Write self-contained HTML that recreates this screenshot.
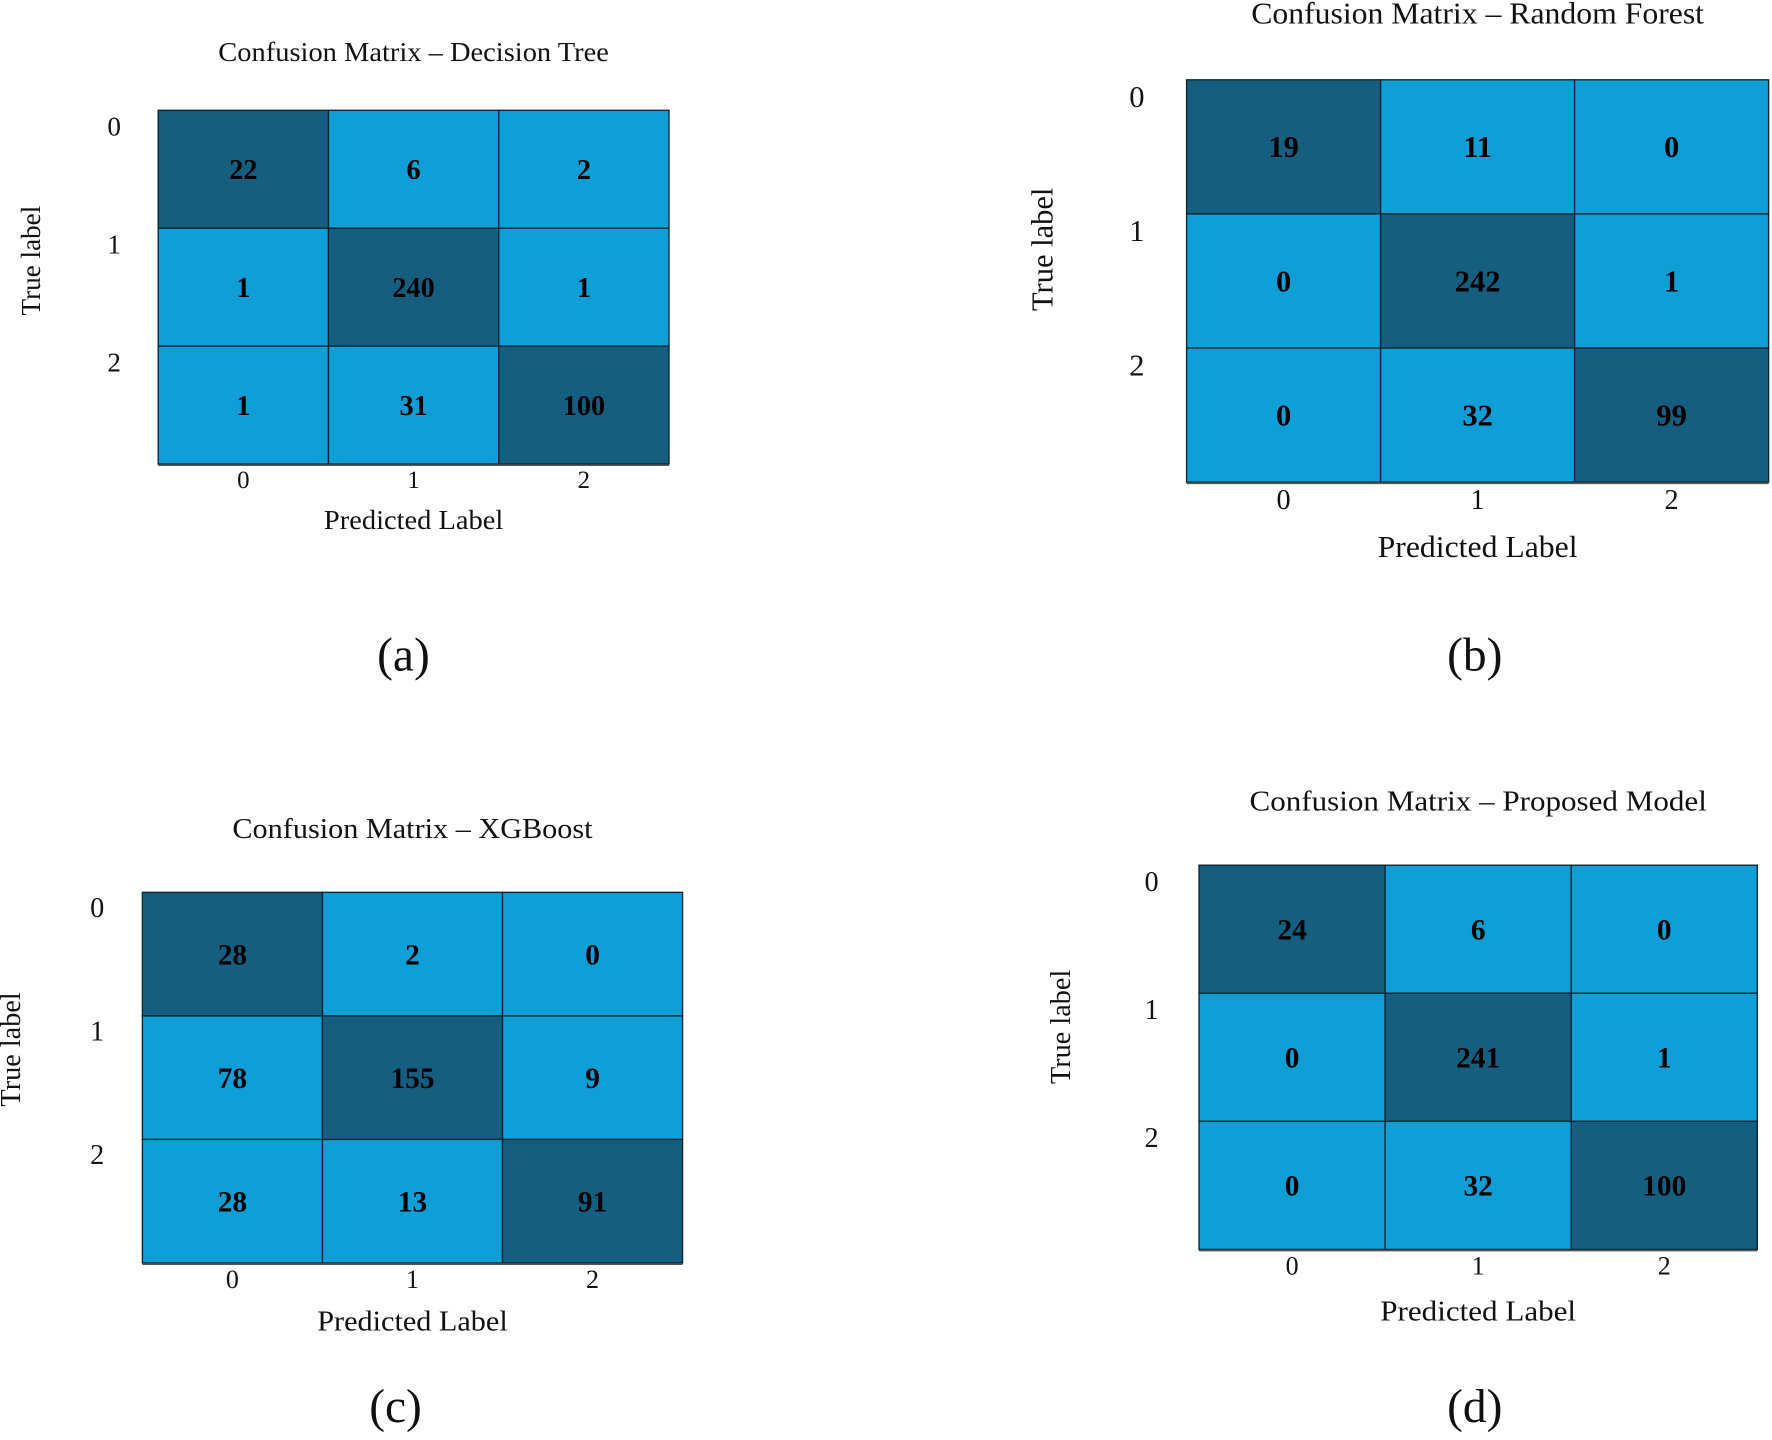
<!DOCTYPE html>
<html><head><meta charset="utf-8"><style>
html,body{margin:0;padding:0;background:#fff;}
svg{display:block;font-family:"Liberation Serif",serif;}
</style></head><body>
<svg id="fig" width="1772" height="1440" viewBox="0 0 1568 1273" xmlns="http://www.w3.org/2000/svg"></svg>
<script>
const classLabels = ["0","1","2"];
const valuesA = [[22,6,2],[1,240,1],[1,31,100]];
const valuesB = [[19,11,0],[0,242,1],[0,32,99]];
const valuesC = [[28,2,0],[78,155,9],[28,13,91]];
const valuesD = [[24,6,0],[0,241,1],[0,32,100]];
const titles = ["Confusion Matrix \u2013 Decision Tree","Confusion Matrix \u2013 Random Forest","Confusion Matrix \u2013 XGBoost","Confusion Matrix \u2013 Proposed Model"];
const captions = ["(a)","(b)","(c)","(d)"];

const layouts = [
 {id:"a",data:valuesA,x0:140,x1:592,y0:97,y1:410,titleY:48,tickX:101,tickDy:17,xtickY:426,xlabY:462,ylabX:30,ylabY:230,capX:357,capY:583,fs:24,sx:1.05,nfs:25},
 {id:"b",data:valuesB,x0:1050,x1:1565,y0:70,y1:426,titleY:14,tickX:1006,tickDy:18,xtickY:444,xlabY:486,ylabX:925,ylabY:220,capX:1305,capY:583,fs:27,sx:1.04,nfs:27},
 {id:"c",data:valuesC,x0:126,x1:604,y0:789,y1:1117,titleY:735,tickX:86,tickDy:16,xtickY:1134,xlabY:1171,ylabX:12,ylabY:928,capX:350,capY:1248,fs:25,sx:1.07,nfs:26},
 {id:"d",data:valuesD,x0:1061,x1:1555,y0:765,y1:1105,titleY:711,tickX:1019,tickDy:17,xtickY:1122,xlabY:1162,ylabX:941,ylabY:908,capX:1305,capY:1248,fs:25,sx:1.1,nfs:26}
];
const NS="http://www.w3.org/2000/svg";
const svg=document.getElementById('fig');
function mk(tag,attrs,parent){const e=document.createElementNS(NS,tag);for(const k in attrs)e.setAttribute(k,attrs[k]);(parent||svg).appendChild(e);return e;}
function stretch(el,x,y,s){el.setAttribute('transform','translate('+x+' '+y+') scale('+s+' 1) translate('+(-x)+' '+(-y)+')');}
layouts.forEach((L,pi)=>{
  const g=mk('g',{});
  
  
  const n=classLabels.length;
  const xs=i=>L.x0+(L.x1-L.x0)*i/n;
  const ys=i=>L.y0+(L.y1-L.y0)*i/n;
  const cx=(L.x0+L.x1)/2;
  const t=mk('text',{x:cx,y:L.titleY,'text-anchor':'middle','dominant-baseline':'middle','font-size':L.fs,fill:'#111'},g);
  t.textContent=titles[pi];
  stretch(t,cx,L.titleY,L.sx);
  
  
  L.data.forEach((row,r)=>{
    const mx=Math.max(...row);
    row.forEach((v,c)=>{
      const rc=mk('rect',{x:xs(c),y:ys(r),width:xs(c+1)-xs(c),height:ys(r+1)-ys(r),fill:(v===mx)?'#165e80':'#0f9fd6',stroke:'#0a2530','stroke-width':1.2},g);
      
      
      const tx=mk('text',{x:(xs(c)+xs(c+1))/2,y:(ys(r)+ys(r+1))/2+3,'text-anchor':'middle','dominant-baseline':'middle','font-size':L.nfs,'font-weight':'bold',fill:'#000'},g);
      tx.textContent=String(v);
      
      
    });
  });
  mk('line',{x1:L.x0,y1:L.y1+1,x2:L.x1,y2:L.y1+1,stroke:'#555','stroke-width':1.5},g);
  classLabels.forEach((lab,i)=>{
    const yt=mk('text',{x:L.tickX,y:ys(i)+L.tickDy,'text-anchor':'middle','dominant-baseline':'middle','font-size':L.fs,fill:'#111'},g);
    yt.textContent=lab;
    
    
    const xt=mk('text',{x:(xs(i)+xs(i+1))/2,y:L.xtickY,'text-anchor':'middle','dominant-baseline':'middle','font-size':L.fs-2,fill:'#111'},g);
    xt.textContent=lab;
    
    
  });
  const xl=mk('text',{x:cx,y:L.xlabY,'text-anchor':'middle','dominant-baseline':'middle','font-size':L.fs,fill:'#111'},g);
  xl.textContent="Predicted Label";
  stretch(xl,cx,L.xlabY,L.sx);
  
  
  const yl=mk('text',{x:L.ylabX,y:L.ylabY,'text-anchor':'middle','dominant-baseline':'middle','font-size':L.fs,fill:'#111',transform:'rotate(-90 '+L.ylabX+' '+L.ylabY+')'},g);
  yl.textContent="True label";
  
  
  const cp=mk('text',{x:L.capX,y:L.capY,'text-anchor':'middle','dominant-baseline':'middle','font-size':42,fill:'#111'},g);
  cp.textContent=captions[pi];
  
  
});
</script>
</body></html>
